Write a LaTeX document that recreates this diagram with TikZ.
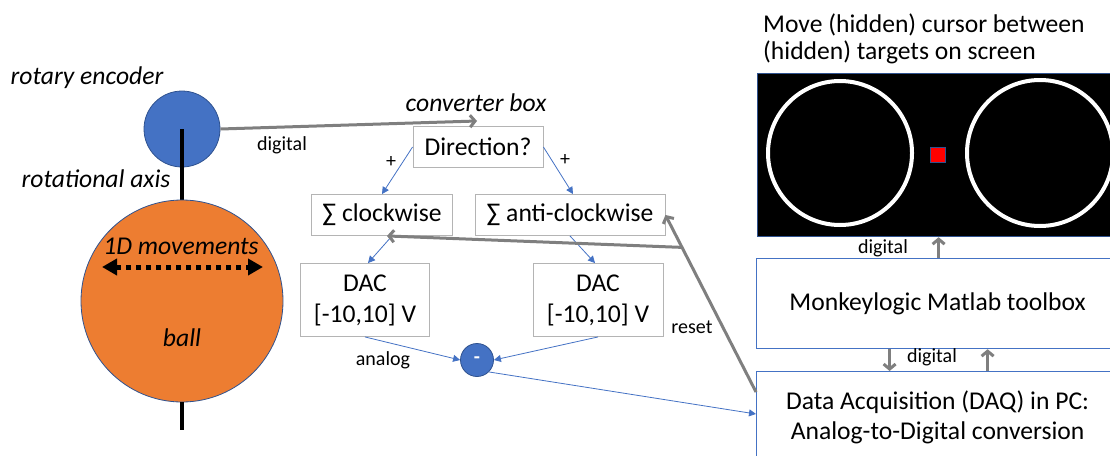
\documentclass[tikz,border=0pt]{standalone}
\usepackage{fontspec}
\setmainfont{Carlito}
\usetikzlibrary{arrows.meta,calc}

\definecolor{accent}{HTML}{4472C4}
\definecolor{darkblue}{HTML}{2F528F}
\definecolor{ballorange}{HTML}{ED7D31}
\definecolor{arrowgray}{HTML}{7F7F7F}
\definecolor{boxgray}{HTML}{B4B4B4}
\definecolor{cursorred}{HTML}{FF0000}

\newcommand\bigtxt{\fontsize{25.6}{30}\selectfont}
\newcommand\lbltxt{\fontsize{20}{24}\selectfont}

\begin{document}
\begin{tikzpicture}[x=1pt,y=-1pt,
  every node/.style={font=\bigtxt, inner sep=0pt},
  graybox/.style={draw=boxgray, line width=0.9pt, fill=white, align=center},
  bluebox/.style={draw=accent, line width=1.2pt, fill=white, align=center},
  thinarrow/.style={draw=accent, line width=0.8pt, -{Triangle[length=7pt,width=7pt]}},
  grayarrow/.style={draw=arrowgray, line width=3pt, -{Straight Barb[length=5pt,width=12pt]}},
  lbl/.style={font=\lbltxt},
  note/.style={font=\bigtxt\itshape},
  axis/.style={line width=4pt, black}]

\useasboundingbox (0,0) rectangle (1110,455);

% ---------- ball and rotary encoder ----------
\node[circle, fill=accent, draw=darkblue, line width=0.8pt, minimum size=76pt] (enc) at (182,129) {};
\coordinate (axisbottom) at (182,430);
\draw[axis] (enc.center) -- (182,200);
\node[circle, fill=ballorange, draw=darkblue, line width=0.8pt, minimum size=202pt] (ball) at (182,301) {};
\draw[axis] (ball.south) -- (axisbottom);

\node[note] (enclabel) at (87,78) {rotary encoder};
\node[note] (axislabel) at (96,179) {rotational axis};
\node[note] (movelabel) at (181,246) {1D movements};
\node[note] (balllabel) at (182,338) {ball};

\coordinate (moveL) at (102,267);
\coordinate (moveR) at (263,267);
\draw[line width=5pt, dash pattern=on 5pt off 5pt,
  {Triangle[length=15pt,width=16pt]}-{Triangle[length=15pt,width=16pt]}] (moveL) -- (moveR);

% ---------- converter box ----------
\node[note] (convlabel) at (476,103) {converter box};
\node[graybox, minimum width=130pt, minimum height=41pt] (dir) at (478,147) {Direction?};
\node[graybox, minimum width=141pt, minimum height=41pt] (cw) at (382,215) {∑ clockwise};
\node[graybox, minimum width=190pt, minimum height=41pt] (acw) at (570,215) {∑ anti-clockwise};
\node[graybox, minimum width=129pt, minimum height=73pt] (dacl) at (365,300) {DAC\\[1pt][-10,10] V};
\node[graybox, minimum width=130pt, minimum height=73pt] (dacr) at (598,300) {DAC\\[1pt][-10,10] V};
\node[circle, fill=accent, draw=darkblue, line width=0.8pt, minimum size=33pt,
  text=white, font=\lbltxt\bfseries] (minus) at (477,360) {-};

\coordinate (encend) at (477,121);
\draw[grayarrow] (enc.east) -- (encend);
\node[lbl] (diglabel) at (282,145) {digital};

\draw[thinarrow] (dir.west) -- (cw.north);
\draw[thinarrow] (dir.east) -- ([xshift=3pt]acw.north);
\node[lbl] (plusL) at (391,162) {+};
\node[lbl] (plusR) at (565,160) {+};

\draw[thinarrow] ([xshift=10pt]cw.south) -- ([xshift=3pt]dacl.north);
\draw[thinarrow] (acw.south) -- ([xshift=-3pt]dacr.north);

\draw[thinarrow] (dacl.south) -- (minus.west);
\draw[thinarrow] (dacr.south) -- (minus.east);
\node[lbl] (analoglabel) at (383,360) {analog};

% ---------- PC side ----------
\node[anchor=west] (title1) at (763,25) {Move (hidden) cursor between};
\node[anchor=west] (title2) at (763,52) {(hidden) targets on screen};

\node[fill=black, draw=darkblue, line width=1.2pt, minimum width=361pt, minimum height=163pt,
  anchor=north west] (screen) at (757,73) {};
\draw[white, line width=4pt] (840,153) circle (72);
\draw[white, line width=4pt] (1040,153) circle (73);
\node[fill=cursorred, draw=darkblue, line width=0.6pt, minimum size=15pt] (cursor) at (937.5,154.5) {};

\node[bluebox, minimum width=362pt, minimum height=90pt, anchor=north west] (ml) at (756,258)
  {Monkeylogic Matlab toolbox};
\node[bluebox, minimum width=362pt, minimum height=91pt, anchor=north west] (daq) at (756,371)
  {Data Acquisition (DAQ) in PC:\\[0pt]Analog-to-Digital conversion};

\draw[grayarrow] ([xshift=1pt]ml.north) -- ([xshift=1pt]ml.north |- screen.south);
\node[lbl] (diglabel2) at (883,248) {digital};
\draw[grayarrow] ([xshift=-48pt]ml.south) -- ([xshift=-48pt]daq.north);
\draw[grayarrow] ([xshift=50pt]daq.north) -- ([xshift=50pt]ml.south);
\node[lbl] (diglabel3) at (932,357) {digital};

\draw[thinarrow] (minus.south east) -- ([yshift=-43pt]daq.north west);

% reset line from the DAQ back to both integrators
\coordinate (resetstart) at ([yshift=-21pt]daq.north west);
\draw[grayarrow] (resetstart) -- (acw.east);
\coordinate (resetjoin) at ($(resetstart)!0.817!(acw.east)$);
\draw[grayarrow] (resetjoin) -- ([xshift=5pt]cw.south);
\node[lbl] (resetlabel) at (692,327) {reset};

\end{tikzpicture}
\end{document}
